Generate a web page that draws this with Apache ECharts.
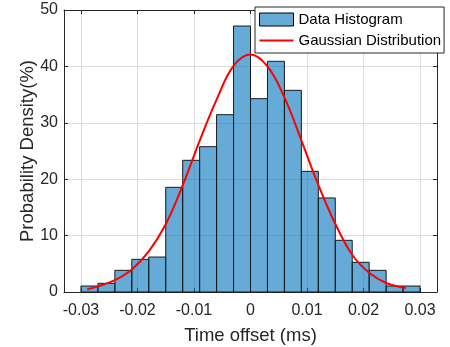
<!DOCTYPE html>
<html><head><meta charset="utf-8">
<script src="https://cdn.jsdelivr.net/npm/echarts@6/dist/echarts.min.js"></script>
<style>html,body{margin:0;padding:0;background:#fff}#c{width:450px;height:347px}</style>
</head><body><div id="c"></div>
<script>
const binEdges = [-0.030,-0.027,-0.024,-0.021,-0.018,-0.015,-0.012,-0.009,-0.006,-0.003,0.000,0.003,0.006,0.009,0.012,0.015,0.018,0.021,0.024,0.027,0.030];
const densities = [1.06,1.54,3.84,5.79,6.20,18.56,23.35,25.77,31.44,47.16,34.28,40.90,35.76,21.39,16.67,9.16,5.26,3.84,1.06,1.06];
const curveX = [-0.0289,-0.027,-0.024,-0.021,-0.018,-0.015,-0.012,-0.009,-0.006,-0.003,0.000,0.003,0.006,0.009,0.012,0.015,0.018,0.021,0.024,0.0275];
const curveY = [0.5,1.0,2.1,4.0,7.2,12.0,18.9,26.8,34.1,40.1,42.1,40.0,34.5,26.9,19.0,12.1,6.6,3.4,1.6,0.7];
const xTicks = [-0.03,-0.02,-0.01,0,0.01,0.02,0.03];
const xTickLabels = ['-0.03','-0.02','-0.01','0','0.01','0.02','0.03'];
const yTicks = [0,10,20,30,40,50];
const seriesNames = ['Data Histogram','Gaussian Distribution'];
const axisNames = ['Time offset (ms)','Probability Density(%)'];

const FONT = 'Liberation Sans, Arial, sans-serif';
const DARK = '#262626';
const BAR_FILL = 'rgba(0,114,189,0.6)';

const histData = densities.map((d, i) => [binEdges[i], binEdges[i+1], d]);
const curveData = curveX.map((x, i) => [x, curveY[i]]);

function xLabel(v) {
  let best = 0;
  for (let i = 1; i < xTicks.length; i++) if (Math.abs(xTicks[i]-v) < Math.abs(xTicks[best]-v)) best = i;
  return xTickLabels[best];
}

const chart = echarts.init(document.getElementById('c'), null, {renderer:'canvas'});
const xCommon = {
  type:'value', min:-0.033, max:0.033,
  axisLine:{show:true, onZero:false, lineStyle:{color:DARK, width:1}},
  axisTick:{show:true, inside:true, length:4, customValues:xTicks, lineStyle:{color:DARK}},
  splitLine:{show:false}
};
const yCommon = {
  type:'value', min:0, max:50, interval:10,
  axisLine:{show:true, onZero:false, lineStyle:{color:DARK, width:1}},
  axisTick:{show:true, inside:true, length:4, lineStyle:{color:DARK}},
  splitLine:{show:false}
};
chart.setOption({
  animation:false,
  backgroundColor:'#fff',
  grid:{left:64, right:13, top:10, bottom:55, containLabel:false, outerBoundsMode:'none'},
  legend:{
    orient:'vertical', left:255, top:7, padding:[5,3,5,4], itemGap:6,
    itemWidth:34, itemHeight:13, borderColor:DARK, borderWidth:1, backgroundColor:'#fff',
    textStyle:{fontFamily:FONT, fontSize:15, color:'#000'},
    data:[
      {name:seriesNames[0], icon:'rect', itemStyle:{color:BAR_FILL, borderColor:'#000', borderWidth:1}},
      {name:seriesNames[1], icon:'path://M0,0M0,5.5L34,5.5L34,7.5L0,7.5ZM34,13', itemStyle:{color:'#ff0000', borderWidth:0}}
    ]
  },
  xAxis:[
    Object.assign({}, xCommon, {
      position:'bottom', name:axisNames[0], nameLocation:'middle', nameGap:34, nameMoveOverlap:false,
      nameTextStyle:{fontFamily:FONT, fontSize:18.5, color:DARK},
      axisLabel:{show:true, customValues:xTicks, margin:11, fontFamily:FONT, fontSize:16, color:DARK, formatter:xLabel},
      splitLine:{show:true, lineStyle:{color:'#dcdcdc', width:1}}
    }),
    Object.assign({}, xCommon, {position:'top', axisLabel:{show:false}})
  ],
  yAxis:[
    Object.assign({}, yCommon, {
      position:'left', name:axisNames[1], nameLocation:'middle', nameGap:27, nameRotate:90, nameMoveOverlap:false,
      nameTextStyle:{fontFamily:FONT, fontSize:18.5, color:DARK},
      axisLabel:{show:true, margin:6, fontFamily:FONT, fontSize:16, color:DARK},
      splitLine:{show:true, lineStyle:{color:'#dcdcdc', width:1}}
    }),
    Object.assign({}, yCommon, {position:'right', axisLabel:{show:false}})
  ],
  series:[
    {
      name:seriesNames[0], type:'custom', xAxisIndex:0, yAxisIndex:0,
      encode:{x:[0,1], y:2},
      data:histData,
      itemStyle:{color:BAR_FILL, borderColor:'#000'},
      renderItem:function(params, api){
        const p0 = api.coord([api.value(0), api.value(2)]);
        const p1 = api.coord([api.value(1), 0]);
        return {type:'rect', shape:{x:p0[0], y:p0[1], width:p1[0]-p0[0], height:p1[1]-p0[1]},
          style:{fill:BAR_FILL, stroke:'#1a1a1a', lineWidth:1}};
      },
      z:2
    },
    {
      name:seriesNames[1], type:'line', xAxisIndex:0, yAxisIndex:0,
      data:curveData, smooth:0.4, symbol:'none', showSymbol:false,
      lineStyle:{color:'#ff0000', width:2}, itemStyle:{color:'#ff0000'},
      z:3
    }
  ]
});
</script></body></html>
